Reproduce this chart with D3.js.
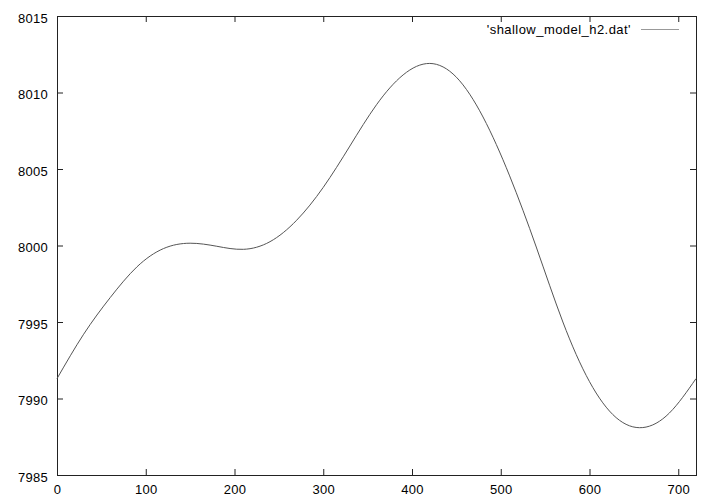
<!DOCTYPE html>
<html>
<head>
<meta charset="utf-8">
<script src="https://cdn.jsdelivr.net/npm/d3@7"></script>
<style>
  body { margin: 0; background: #fff; }
  text { font-family: "Liberation Sans", Arial, sans-serif; font-size: 13px; fill: #000; }
</style>
</head>
<body>
<div id="chart"></div>
<script>
// values, every 30 units along x
const xs = [0, 30, 60, 90, 120, 150, 180, 210, 240, 270, 300, 330, 360, 390, 420, 450, 480, 510, 540, 570, 600, 630, 660, 690, 720];
const ys = [7991.3, 7994.2, 7996.6, 7998.6, 7999.8, 8000.15, 7999.95, 7999.75, 8000.25, 8001.65, 8003.8, 8006.5, 8009.2, 8011.15, 8011.9, 8011.0, 8008.4, 8004.55, 7999.9, 7995.0, 7991.1, 7988.75, 7988.1, 7989.05, 7991.3];
const xTicks = [0, 100, 200, 300, 400, 500, 600, 700];
const yTicks = [7985, 7990, 7995, 8000, 8005, 8010, 8015];
const seriesName = "'shallow_model_h2.dat'";

const width = 720, height = 504;
const margin = { top: 16, right: 24, bottom: 29, left: 57 };

const svg = d3.select('#chart').append('svg')
  .attr('width', width)
  .attr('height', height);

const x = d3.scaleLinear().domain([0, 720]).range([margin.left, width - margin.right]);
const y = d3.scaleLinear().domain([7985, 8015]).range([height - margin.bottom, margin.top]);

const tick = 6;
const axisColor = '#222';

// tick marks on all four sides, pointing in
svg.append('g').attr('transform', `translate(0,${y(7985)})`)
  .call(d3.axisBottom(x).tickValues(xTicks).tickSizeInner(-tick).tickSizeOuter(0).tickPadding(10).tickFormat(d3.format('d')))
  .call(g => g.select('.domain').remove());
svg.append('g').attr('transform', `translate(0,${y(8015)})`)
  .call(d3.axisTop(x).tickValues(xTicks).tickSizeInner(-tick).tickSizeOuter(0).tickFormat(''))
  .call(g => g.select('.domain').remove());
svg.append('g').attr('transform', `translate(${x(0)},0)`)
  .call(d3.axisLeft(y).tickValues(yTicks).tickSizeInner(-tick).tickSizeOuter(0).tickPadding(9).tickFormat(d3.format('d')))
  .call(g => g.select('.domain').remove())
  .call(g => g.selectAll('text').attr('dy', '0.48em'));
svg.append('g').attr('transform', `translate(${x(720)},0)`)
  .call(d3.axisRight(y).tickValues(yTicks).tickSizeInner(-tick).tickSizeOuter(0).tickFormat(''))
  .call(g => g.select('.domain').remove());

svg.selectAll('.tick line').attr('stroke', axisColor);
svg.selectAll('.tick text')
  .attr('font-size', 13)
  .attr('font-family', '"Liberation Sans", Arial, sans-serif')
  .attr('letter-spacing', 0.3)
  .attr('fill', '#000');

// frame
svg.append('rect')
  .attr('x', x(0)).attr('y', y(8015))
  .attr('width', x(720) - x(0)).attr('height', y(7985) - y(8015))
  .attr('fill', 'none').attr('stroke', axisColor).attr('stroke-width', 1)
  .attr('shape-rendering', 'crispEdges');

// the curve
const pts = xs.map((d, i) => [d, ys[i]]);
const line = d3.line().x(d => x(d[0])).y(d => y(d[1])).curve(d3.curveNatural);
svg.append('path')
  .datum(pts)
  .attr('d', line)
  .attr('fill', 'none')
  .attr('stroke', '#555')
  .attr('stroke-width', 1);

// key
const key = svg.append('g');
key.append('text')
  .attr('x', 631).attr('y', 34)
  .attr('text-anchor', 'end')
  .attr('letter-spacing', 0.45)
  .text(seriesName);
key.append('line')
  .attr('x1', 641).attr('x2', 679)
  .attr('y1', 29.5).attr('y2', 29.5)
  .attr('stroke', '#999').attr('stroke-width', 1);
</script>
</body>
</html>
